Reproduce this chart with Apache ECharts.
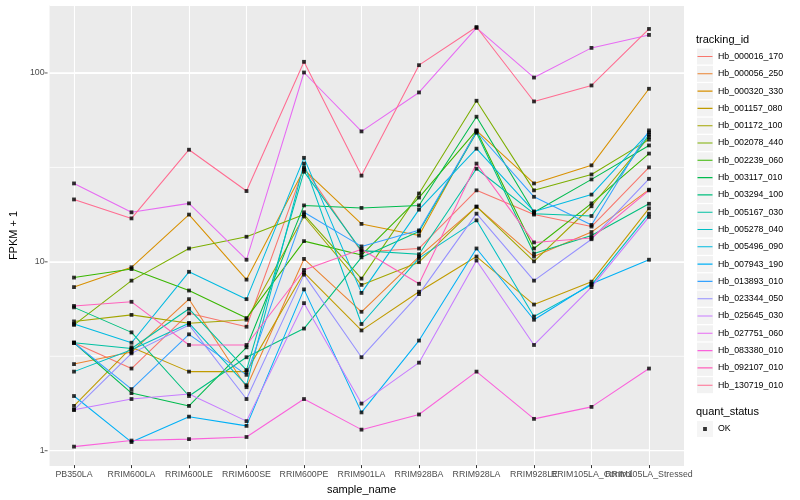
<!DOCTYPE html>
<html><head><meta charset="utf-8">
<script src="https://cdn.jsdelivr.net/npm/echarts@6/dist/echarts.min.js"></script>
<style>html,body{margin:0;padding:0;background:#fff}#c{width:800px;height:500px}</style>
</head><body><div id="c"></div>
<script>
const categories = ["PB350LA","RRIM600LA","RRIM600LE","RRIM600SE","RRIM600PE","RRIM901LA","RRIM928BA","RRIM928LA","RRIM928LE","RRIM105LA_Control","RRIM105LA_Stressed"];
const trackingIds = ["Hb_000016_170","Hb_000056_250","Hb_000320_330","Hb_001157_080","Hb_001172_100","Hb_002078_440","Hb_002239_060","Hb_003117_010","Hb_003294_100","Hb_005167_030","Hb_005278_040","Hb_005496_090","Hb_007943_190","Hb_013893_010","Hb_023344_050","Hb_025645_030","Hb_027751_060","Hb_083380_010","Hb_092107_010","Hb_130719_010"];
const colors = ["#F8766D","#EA8331","#D89000","#C09B00","#A3A500","#7CAE00","#39B600","#00BB4E","#00BF7D","#00C1A3","#00BFC4","#00BAE0","#00B0F6","#35A2FF","#9590FF","#C77CFF","#E76BF3","#FA62DB","#FF62BC","#FF6C91"];

const hb000016_170 = [3.7, 2.7, 5.3, 4.5, 31.4, 11.2, 11.7, 23.8, 17.7, 15.3, 31.5];
const hb000056_250 = [2.85, 3.3, 6.3, 2.15, 10.3, 5.4, 10.6, 19.5, 10.6, 14.3, 24.0];
const hb000320_330 = [7.3, 9.3, 17.7, 8.0, 30.7, 15.8, 13.7, 49.3, 25.9, 32.3, 82.3];
const hb001157_080 = [1.71, 3.5, 2.6, 2.6, 8.7, 4.3, 6.9, 10.6, 5.9, 7.8, 19.1];
const hb001172_100 = [4.8, 5.2, 4.7, 4.9, 17.3, 7.5, 9.9, 19.5, 10.0, 19.6, 45.7];
const hb002078_440 = [4.6, 7.9, 11.7, 13.5, 17.7, 8.1, 22.9, 71.1, 23.8, 28.9, 44.2];
const hb002239_060 = [8.2, 9.1, 7.0, 5.0, 12.8, 10.8, 21.8, 49.5, 11.7, 20.3, 37.3];
const hb003117_010 = [3.7, 2.0, 1.71, 3.5, 19.8, 19.2, 19.8, 58.5, 18.2, 27.2, 41.2];
const hb003294_100 = [5.7, 4.2, 1.93, 3.1, 4.4, 10.5, 14.4, 48.1, 11.0, 13.7, 20.2];
const hb005167_030 = [3.7, 3.45, 5.6, 2.65, 29.9, 11.4, 10.9, 31.0, 17.9, 17.4, 47.0];
const hb005278_040 = [2.6, 3.4, 4.7, 2.2, 33.0, 4.65, 10.4, 16.5, 5.1, 7.5, 17.9];
const hb005496_090 = [4.65, 3.7, 8.8, 6.3, 35.4, 6.8, 18.8, 39.6, 18.4, 22.6, 48.3];
const hb007943_190 = [1.93, 1.10, 1.50, 1.34, 7.1, 1.58, 3.8, 11.7, 4.9, 7.6, 10.2];
const hb013893_010 = [3.7, 2.1, 4.1, 2.5, 18.2, 12.0, 14.6, 48.7, 22.0, 15.6, 49.5];
const hb023344_050 = [1.63, 3.25, 4.6, 1.86, 8.5, 3.1, 6.7, 17.9, 7.9, 13.1, 27.4];
const hb025645_030 = [1.63, 1.86, 1.98, 1.42, 6.0, 1.76, 2.9, 10.1, 3.6, 7.3, 17.2];
const hb027751_060 = [25.9, 18.2, 20.3, 10.2, 100.4, 48.9, 78.7, 173, 94.4, 135.6, 158.9];
const hb083380_010 = [1.04, 1.12, 1.14, 1.17, 1.86, 1.28, 1.54, 2.6, 1.46, 1.69, 2.7];
const hb092107_010 = [5.8, 6.1, 3.6, 3.6, 9.0, 11.6, 7.6, 33.0, 12.6, 13.3, 23.8];
const hb130719_010 = [21.3, 16.9, 39.1, 23.6, 114.4, 28.5, 109.8, 175.1, 70.5, 85.7, 170.9];

const seriesValues = [hb000016_170, hb000056_250, hb000320_330, hb001157_080, hb001172_100, hb002078_440, hb002239_060, hb003117_010, hb003294_100, hb005167_030, hb005278_040, hb005496_090, hb007943_190, hb013893_010, hb023344_050, hb025645_030, hb027751_060, hb083380_010, hb092107_010, hb130719_010];

const yTicks = [1, 10, 100];
const yMinorBreaks = [3.1623, 31.623];
const quantStatus = ["OK"];

const FONT = "'Liberation Sans', Arial, sans-serif";
const LINE_ICON = 'path://M0,0L0.01,0L0,0.01Z M0.5,7.45L15.5,7.45L15.5,8.55L0.5,8.55Z M16,16L15.99,16L16,15.99Z';
const POINT_ICON = 'path://M0,0L0.01,0L0,0.01Z M6.1,6.1L9.9,6.1L9.9,9.9L6.1,9.9Z M16,16L15.99,16L16,15.99Z';
const GRID_WHITE = '#ffffff';

const chart = echarts.init(document.getElementById('c'), null, {renderer: 'canvas'});

const lineSeries = trackingIds.map((id, i) => ({
  name: id, type: 'line', xAxisIndex: 1, yAxisIndex: 1,
  data: seriesValues[i], showSymbol: false, symbol: 'none', color: colors[i],
  lineStyle: {width: 1.05}, silent: true, animation: false, z: 2
}));

const pointData = [];
seriesValues.forEach(arr => arr.forEach((v, j) => pointData.push([j, v])));

const isTick = v => yTicks.some(t => Math.abs(t - v) / t < 1e-6);

const legendBase = {orient: 'vertical', left: 697, itemWidth: 16, itemHeight: 16, itemGap: 1.3, padding: 0, selectedMode: false};

const hGrid = [...yTicks.map(v => ({v, w: 1.3})), ...yMinorBreaks.map(v => ({v, w: 0.8}))];

chart.setOption({
  animation: false,
  backgroundColor: '#fff',
  title: [
    {text: 'tracking_id', left: 696, top: 34, padding: 0, textStyle: {fontSize: 11, fontWeight: 'normal', color: '#000', fontFamily: FONT}},
    {text: 'quant_status', left: 696, top: 406, padding: 0, textStyle: {fontSize: 11, fontWeight: 'normal', color: '#000', fontFamily: FONT}}
  ],
  grid: [
    {left: 40, right: 116, top: 5, bottom: 34, show: true, backgroundColor: '#EBEBEB', borderWidth: 0},
    {left: 74, right: 151, top: 5, bottom: 34, show: false}
  ],
  xAxis: [
    {type: 'value', gridIndex: 0, min: 0, max: 1, show: false},
    {type: 'category', gridIndex: 1, data: categories, boundaryGap: false,
     axisLine: {show: false}, axisTick: {show: true, length: 3, lineStyle: {color: '#333', width: 1}},
     axisLabel: {interval: 0, hideOverlap: false, margin: 5, fontSize: 8.8, color: '#4D4D4D', fontFamily: FONT},
     splitLine: {show: true, lineStyle: {color: GRID_WHITE, width: 1.1}},
     name: 'sample_name', nameLocation: 'middle', nameGap: 18,
     nameTextStyle: {fontSize: 11, color: '#000', fontFamily: FONT}}
  ],
  yAxis: [
    {type: 'log', gridIndex: 0, min: 0.83, max: 229,
     axisLine: {show: false},
     axisTick: {show: false},
     axisLabel: {margin: 5, fontSize: 8.8, color: '#4D4D4D', fontFamily: FONT, showMinLabel: false, showMaxLabel: false,
       formatter: v => isTick(v) ? String(Math.round(v)) : ''},
     splitLine: {show: true, lineStyle: {color: GRID_WHITE, width: 1.1}},
     name: 'FPKM + 1', nameLocation: 'middle', nameGap: 24,
     nameTextStyle: {fontSize: 11, color: '#000', fontFamily: FONT}},
    {type: 'log', gridIndex: 1, min: 0.83, max: 229, show: false, splitLine: {show: false}}
  ],
  legend: [
    Object.assign({}, legendBase, {data: trackingIds, top: 48.5, icon: 'rect', itemStyle: {color: '#F2F2F2', borderWidth: 0}, formatter: () => '', textStyle: {fontSize: 1}}),
    Object.assign({}, legendBase, {data: trackingIds, top: 48.5, icon: LINE_ICON, itemStyle: {borderWidth: 0}, textStyle: {fontSize: 8.8, color: '#000', fontFamily: FONT}}),
    Object.assign({}, legendBase, {data: quantStatus, top: 421, icon: 'rect', itemStyle: {color: '#F2F2F2', borderWidth: 0}, formatter: () => '', textStyle: {fontSize: 1}}),
    Object.assign({}, legendBase, {data: quantStatus, top: 421, icon: POINT_ICON, itemStyle: {borderWidth: 0}, textStyle: {fontSize: 8.8, color: '#000', fontFamily: FONT}})
  ],
  series: [
    ...hGrid.map((g, k) => ({
      type: 'line', name: '_hgrid' + k, xAxisIndex: 0, yAxisIndex: 0,
      data: [[0, g.v], [1, g.v]], showSymbol: false, symbol: 'none', silent: true, z: 1, clip: false,
      color: GRID_WHITE, lineStyle: {color: GRID_WHITE, width: g.w}
    })),
    ...hGrid.map((g, k) => ({
      type: 'line', name: '_hgridB' + k, xAxisIndex: 1, yAxisIndex: 1,
      data: categories.map(() => g.v), showSymbol: false, symbol: 'none', silent: true, z: 1, clip: false,
      color: GRID_WHITE, lineStyle: {color: GRID_WHITE, width: g.w}
    })),
    {type: 'scatter', name: '_ticks', xAxisIndex: 0, yAxisIndex: 0, data: yTicks.map(v => [0, v]),
     symbol: 'path://M0,0L1,0L1,0.2L0,0.2Z', symbolSize: [3, 1], symbolOffset: [-3.5, 0], color: '#333', silent: true, z: 3,
     clip: false},
    ...lineSeries,
    {type: 'scatter', name: 'OK', xAxisIndex: 1, yAxisIndex: 1, data: pointData, symbol: 'rect', symbolSize: 3.8,
     color: '#000', itemStyle: {color: '#000'}, silent: true, z: 3}
  ]
});
</script></body></html>
